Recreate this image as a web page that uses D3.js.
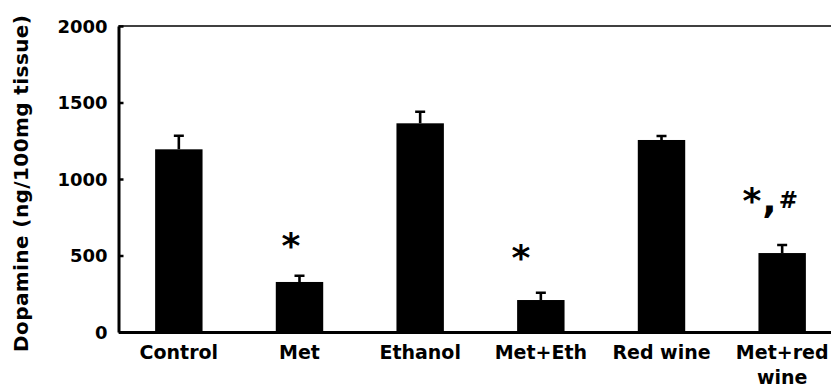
<!DOCTYPE html>
<html>
<head>
<meta charset="utf-8">
<script src="https://cdn.jsdelivr.net/npm/d3@7"></script>
<style>
  html, body { margin: 0; padding: 0; background: #fff; }
  svg { display: block; }
  text { font-family: "DejaVu Sans", Verdana, sans-serif; font-weight: bold; fill: #000; }
</style>
</head>
<body>
<svg id="chart" width="831" height="387"></svg>
<script>
// ---- data ----
const categories = ["Control", "Met", "Ethanol", "Met+Eth", "Red wine", "Met+red wine"];
const means = [1194, 327, 1364, 209, 1255, 516];
const errors = [89, 41, 76, 48, 26, 53];
const yTicks = [0, 500, 1000, 1500, 2000];
const yTitle = "Dopamine (ng/100mg tissue)";
const annotationCategories = ["Met", "Met+Eth", "Met+red wine"];
const annotationLabels = ["*", "*", "*,#"];
const annotationValues = [614, 533, 908];

// ---- layout ----
const plotLeft = 118.5, plotTop = 26, plotBottom = 332;
const plotWidth = 724;

const svg = d3.select("#chart");

const x = d3.scaleBand()
  .domain(categories)
  .range([plotLeft, plotLeft + plotWidth])
  .paddingInner(0.607)
  .paddingOuter(0.3035);

const y = d3.scaleLinear().domain([0, 2000]).range([plotBottom, plotTop]);

// top frame line
svg.append("line")
  .attr("x1", plotLeft).attr("x2", plotLeft + plotWidth)
  .attr("y1", y(2000)).attr("y2", y(2000))
  .attr("stroke", "#000").attr("stroke-width", 1.5);

// bars
svg.append("g").selectAll("rect")
  .data(categories)
  .join("rect")
  .attr("x", d => x(d))
  .attr("width", x.bandwidth())
  .attr("y", (d, i) => y(means[i]))
  .attr("height", (d, i) => y(0) - y(means[i]))
  .attr("fill", "#000");

// error bars (upper only)
const capHalf = 5;
svg.append("g").selectAll("path")
  .data(categories)
  .join("path")
  .attr("d", (d, i) => {
    const cx = x(d) + x.bandwidth() / 2;
    const y0 = y(means[i]);
    const y1 = y(means[i] + errors[i]);
    return `M${cx},${y0}V${y1}M${cx - capHalf},${y1}H${cx + capHalf}`;
  })
  .attr("fill", "none")
  .attr("stroke", "#000")
  .attr("stroke-width", 2.6);

// y axis
const yAxis = svg.append("g")
  .attr("transform", `translate(${plotLeft},0)`)
  .call(d3.axisLeft(y).tickValues(yTicks).tickSizeInner(-5).tickSizeOuter(0).tickPadding(11).tickFormat(d3.format("d")));
yAxis.select(".domain").attr("stroke", "#000").attr("stroke-width", 3);
yAxis.selectAll(".tick line").attr("stroke", "#000").attr("stroke-width", 2.5);
yAxis.selectAll(".tick text").style("font-size", "18px").attr("dy", "0.36em");

// x axis
const xAxis = svg.append("g")
  .attr("transform", `translate(0,${plotBottom})`)
  .call(d3.axisBottom(x).tickSize(0).tickPadding(13.5));
xAxis.select(".domain").attr("stroke", "#000").attr("stroke-width", 3);
xAxis.selectAll(".tick text").style("font-size", "19px").call(wrap, x.step() * 0.95);

function wrap(sel, width) {
  sel.each(function() {
    const t = d3.select(this);
    const words = t.text().split(/\s+/);
    const yAttr = t.attr("y"), dy = parseFloat(t.attr("dy"));
    t.text(null);
    let line = [];
    let lineNo = 0;
    let ts = t.append("tspan").attr("x", 0).attr("y", yAttr).attr("dy", dy + "em");
    for (const w of words) {
      line.push(w);
      ts.text(line.join(" "));
      if (ts.node().getComputedTextLength() > width && line.length > 1) {
        line.pop();
        ts.text(line.join(" "));
        line = [w];
        lineNo++;
        ts = t.append("tspan").attr("x", 0).attr("y", yAttr)
          .attr("dy", (dy + lineNo * 1.3) + "em").text(w);
      }
    }
  });
}

// y title
svg.append("text")
  .attr("transform", `translate(27.5,${(15 + 352) / 2}) rotate(-90)`)
  .attr("text-anchor", "middle")
  .attr("textLength", 337)
  .attr("lengthAdjust", "spacing")
  .style("font-size", "20px")
  .text(yTitle);

// significance annotations
const annotationDx = [-8.5, -20, -12];
const ann = svg.append("g");
annotationCategories.forEach((c, i) => {
  const cx = x(c) + x.bandwidth() / 2 + annotationDx[i];
  const t = ann.append("text")
    .attr("x", cx)
    .attr("y", y(annotationValues[i]))
    .attr("text-anchor", "middle");
  const parts = annotationLabels[i].split("");
  parts.forEach((p, j) => {
    const sp = t.append("tspan").text(p);
    if (p === "*") sp.style("font-size", "36px").attr("dy", j === 0 ? "0.55em" : null);
    if (p === ",") sp.style("font-size", "38px").attr("dx", "1");
    if (p === "#") sp.style("font-size", "23px").attr("dy", "-0.2em").attr("dx", "2");
  });
});
</script>
</body>
</html>
